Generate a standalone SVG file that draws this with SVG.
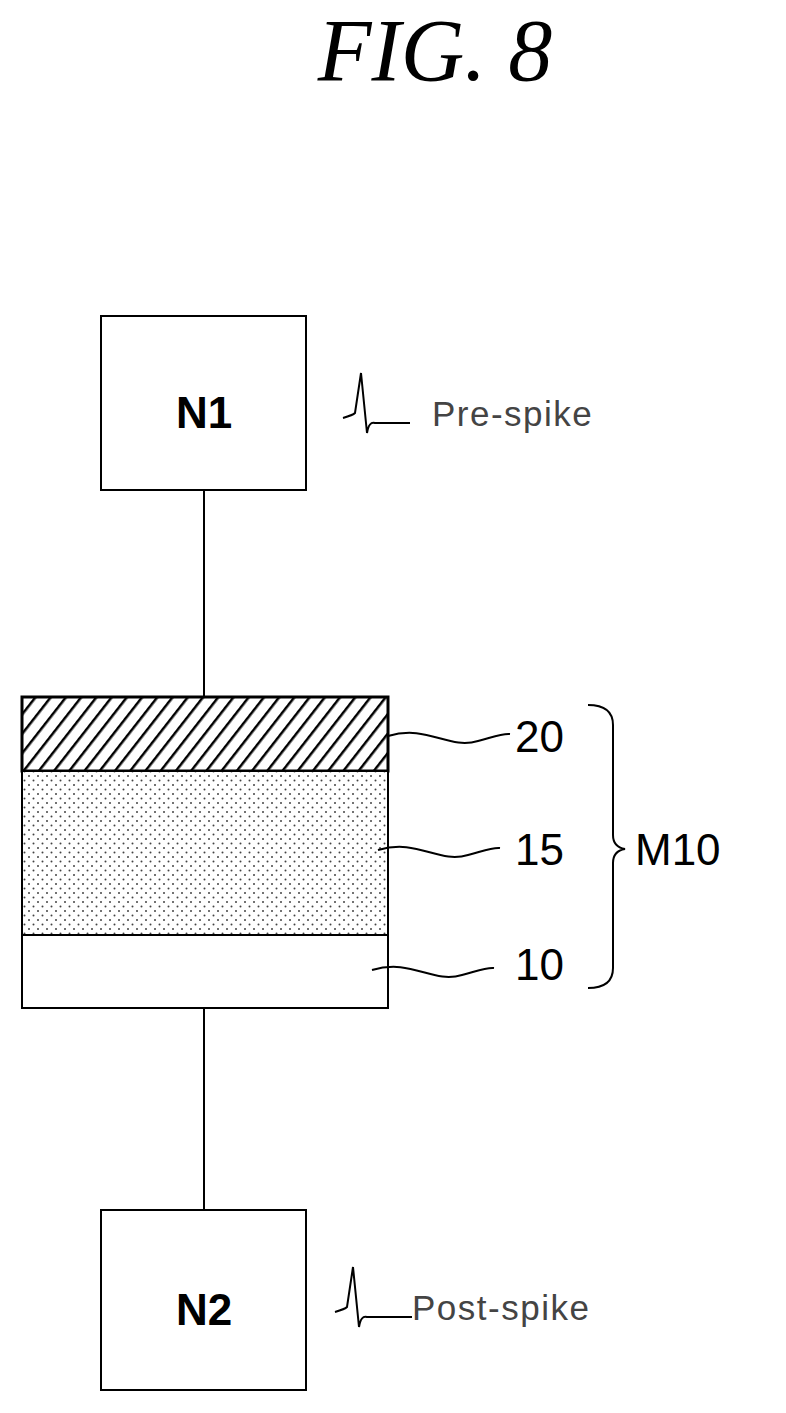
<svg xmlns="http://www.w3.org/2000/svg" width="786" height="1413" viewBox="0 0 786 1413">
<style>
.b{fill:#fff;stroke:#000;stroke-width:2}
.t{font-family:"Liberation Sans",Arial,sans-serif;font-size:44px;fill:#000}
.s{font-family:"Liberation Sans",Arial,sans-serif;font-size:35px;fill:#444;letter-spacing:1.5px}
.l{fill:none;stroke:#000;stroke-width:2}
</style>
<defs>
<pattern id="h" width="12" height="12" patternUnits="userSpaceOnUse" patternTransform="rotate(38)">
<rect width="12" height="12" fill="#fff"/><line x1="0" y1="0" x2="0" y2="12" stroke="#000" stroke-width="5"/>
</pattern>
<pattern id="d" width="9" height="9" patternUnits="userSpaceOnUse">
<rect width="9" height="9" fill="#fff"/><circle cx="2" cy="2" r="1" fill="#444"/><circle cx="6.5" cy="6.5" r="1" fill="#444"/>
</pattern>
</defs>
<rect width="786" height="1413" fill="#fff"/>
<text x="435" y="80" text-anchor="middle" font-family="Liberation Serif,serif" font-style="italic" font-size="88">FIG. 8</text>
<g id="connectors">
<line class="l" x1="204" y1="490" x2="204" y2="697"/>
<line class="l" x1="204" y1="1008" x2="204" y2="1210"/>
</g>
<g id="N1"><rect class="b" x="101" y="316" width="205" height="174"/><text class="t" x="204" y="428" text-anchor="middle" font-weight="bold" font-size="42">N1</text>
<path class="l" stroke-width="1.5" d="M343 418 q10 -3 12 -5 l6 -40 l6 60 q2 -12 8 -10 h35"/>
<text class="s" x="432" y="426">Pre-spike</text></g>
<g id="M10">
<rect x="22" y="697" width="366" height="74" fill="url(#h)" stroke="#000" stroke-width="3"/>
<rect x="22" y="771" width="366" height="164" fill="url(#d)" stroke="#000" stroke-width="2"/>
<rect class="b" x="22" y="935" width="366" height="73"/>
<path class="l" d="M388 736 c40 -12 60 14 90 5 c15 -4 25 -8 32 -7"/>
<path class="l" d="M378 850 c40 -12 60 14 90 5 c15 -4 25 -8 32 -7"/>
<path class="l" d="M372 970 c40 -12 60 14 90 5 c15 -4 25 -8 32 -7"/>
<text class="t" x="515" y="752">20</text>
<text class="t" x="515" y="865">15</text>
<text class="t" x="515" y="980">10</text>
<path class="l" d="M588 705 q25 0 25 20 v110 q0 12 12 14 q-12 2 -12 14 v105 q0 20 -25 20"/>
<text class="t" x="635" y="865">M10</text>
</g>
<g id="N2"><rect class="b" x="101" y="1210" width="205" height="180"/><text class="t" x="204" y="1325" text-anchor="middle" font-weight="bold" font-size="42">N2</text>
<path class="l" stroke-width="1.5" d="M335 1312 q10 -3 12 -5 l6 -40 l6 60 q2 -12 8 -10 h45"/>
<text class="s" x="412" y="1320">Post-spike</text></g>
</svg>
